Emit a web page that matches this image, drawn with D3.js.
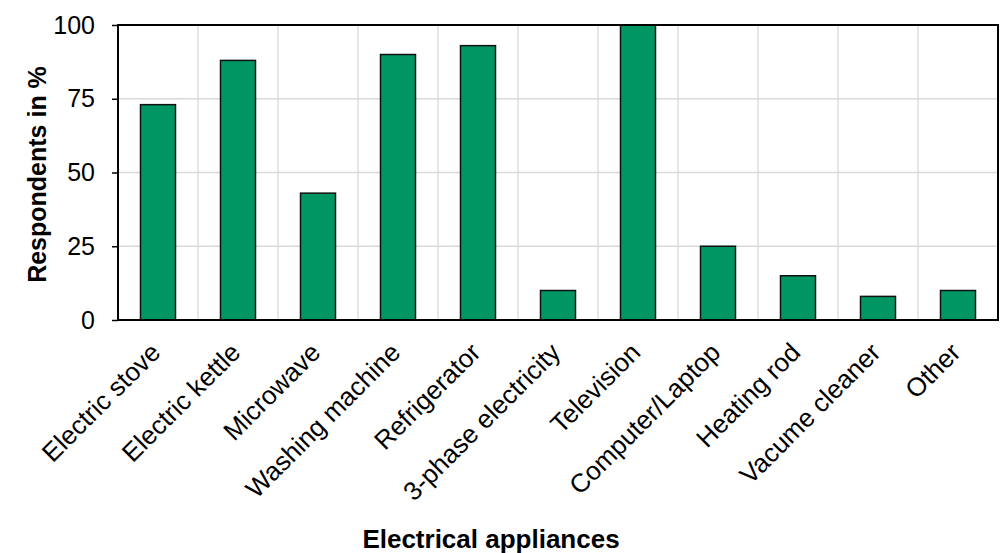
<!DOCTYPE html>
<html><head><meta charset="utf-8">
<script src="https://cdn.jsdelivr.net/npm/d3@7"></script>
<style>body{margin:0;background:#fff}svg{display:block}text{font-family:"Liberation Sans",Arial,sans-serif}</style>
</head><body><svg id="c" width="1001" height="553"></svg>
<script>
const categories = ["Electric stove","Electric kettle","Microwave","Washing machine","Refrigerator","3-phase electricity","Television","Computer/Laptop","Heating rod","Vacume cleaner","Other"];
const values = [73, 88, 43, 90, 93, 10, 100, 25, 15, 8, 10];
const yTicks = [0, 25, 50, 75, 100];

const svg = d3.select("#c");
const m = {l:118, t:25, r:1001-998, b:553-320};
const W = 1001 - m.l - m.r, H = 553 - m.t - m.b;
const g = svg.append("g").attr("transform", `translate(${m.l},${m.t})`);
const x = d3.scaleBand().domain(categories).range([0, W]).paddingInner(0.5625).paddingOuter(0.28125);
const xb = d3.scaleBand().domain(categories).range([0, W]);
const y = d3.scaleLinear().domain([0, 100]).range([H, 0]);

// grid
g.append("g").selectAll("line").data(yTicks.slice(1,-1)).join("line")
  .attr("x1",0).attr("x2",W).attr("y1",d=>y(d)).attr("y2",d=>y(d))
  .attr("stroke","#d9d9d9").attr("stroke-width",1.3);
g.append("g").selectAll("line").data(categories.slice(1)).join("line")
  .attr("x1",d=>xb(d)).attr("x2",d=>xb(d)).attr("y1",0).attr("y2",H)
  .attr("stroke","#d9d9d9").attr("stroke-width",1.3);

// bars
g.append("g").selectAll("rect").data(values).join("rect")
  .attr("x",(d,i)=>x(categories[i])).attr("width",x.bandwidth())
  .attr("y",d=>y(d)).attr("height",d=>H-y(d))
  .attr("fill","#009664").attr("stroke","#111").attr("stroke-width",1.5);

// frame
g.append("rect").attr("x",0).attr("y",0).attr("width",W).attr("height",H)
  .attr("fill","none").attr("stroke","#000").attr("stroke-width",2);

// y axis
const ya = g.append("g").call(d3.axisLeft(y).tickValues(yTicks).tickSize(6).tickPadding(17).tickFormat(d3.format("d")));
ya.select(".domain").remove();
ya.selectAll("line").attr("stroke","#000").attr("stroke-width",1.5);
ya.selectAll("text").attr("font-size",25).attr("fill","#000").style("font-family","Liberation Sans, Arial, sans-serif");

// x labels
const xa = g.append("g").attr("transform",`translate(0,${H})`);
xa.selectAll("text").data(categories).join("text")
  .attr("transform",d=>`translate(${xb(d)+xb.bandwidth()/2-9},${21}) rotate(-45)`)
  .attr("text-anchor","end").attr("dy","0.71em")
  .attr("font-size",26).attr("fill","#000").text(d=>d);

// titles
svg.append("text").attr("x", 491).attr("y", 548).attr("text-anchor","middle")
  .attr("font-size",26).attr("font-weight","bold").text("Electrical appliances");
svg.append("text").attr("transform",`translate(46,${m.t+H/2+2}) rotate(-90)`).attr("text-anchor","middle")
  .attr("font-size",25).attr("font-weight","bold").text("Respondents in %");
</script></body></html>
